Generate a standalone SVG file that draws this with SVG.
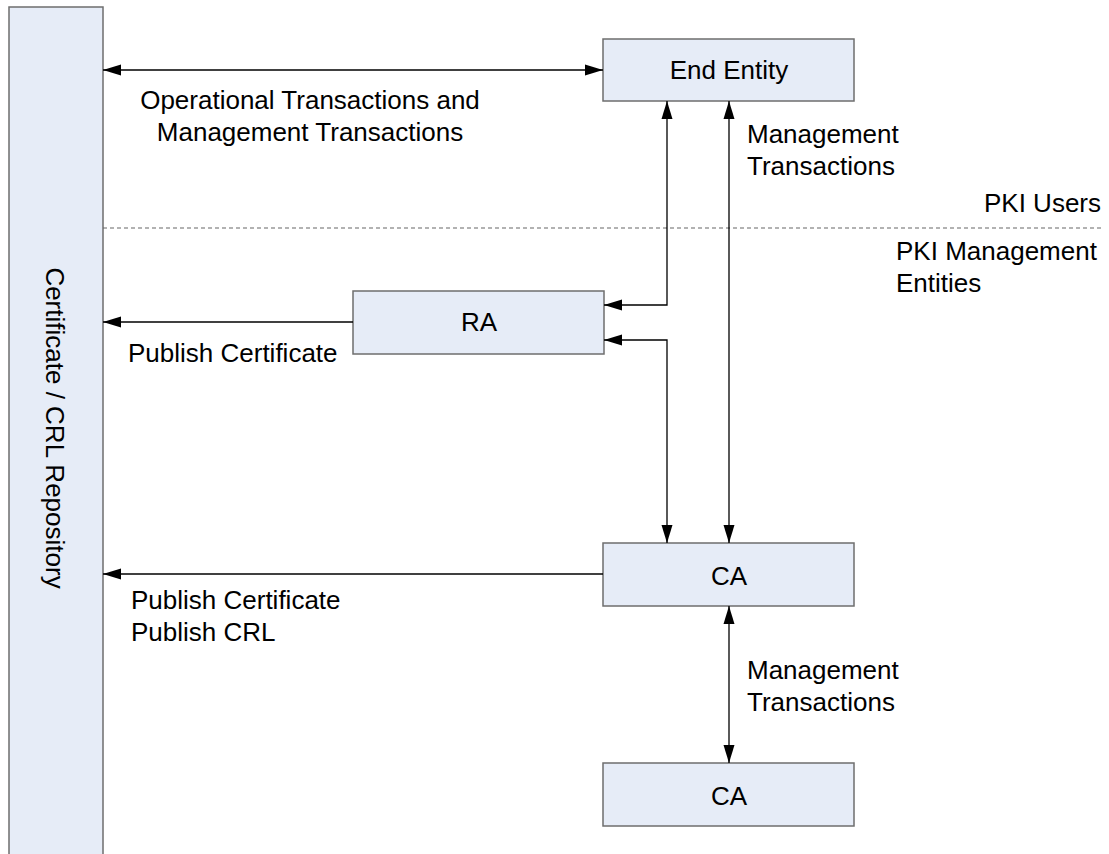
<svg xmlns="http://www.w3.org/2000/svg" width="1109" height="854" viewBox="0 0 1109 854">
<style>
.box{fill:#E6ECF7;stroke:#6E6E6E;stroke-width:1.5}
.t{font-family:"Liberation Sans",Arial,sans-serif;font-size:26px;fill:#000}
.c{text-anchor:middle}
.ln{fill:none;stroke:#000;stroke-width:1.3}
</style>
<defs>
<marker id="ah" markerUnits="userSpaceOnUse" markerWidth="20" markerHeight="14" refX="18" refY="6" orient="auto-start-reverse">
<path d="M0,0.5 L18,6 L0,11.5 z" fill="#000"/>
</marker>
</defs>
<rect width="1109" height="854" fill="#fff"/>
<g id="repository">
<rect class="box" x="9" y="7" width="94" height="860"/>
<text class="t c" transform="translate(46,428) rotate(90)">Certificate / CRL Repository</text>
</g>
<g id="end-entity">
<rect class="box" x="603" y="39" width="251" height="62"/>
<text class="t c" x="729" y="79">End Entity</text>
</g>
<g id="ra">
<rect class="box" x="353" y="291" width="251" height="63"/>
<text class="t c" x="479" y="331">RA</text>
</g>
<g id="ca1">
<rect class="box" x="603" y="543" width="251" height="63"/>
<text class="t c" x="729" y="585">CA</text>
</g>
<g id="ca2">
<rect class="box" x="603" y="763" width="251" height="63"/>
<text class="t c" x="729" y="805">CA</text>
</g>
<g id="boundary">
<line x1="103" y1="228" x2="1103" y2="228" stroke="#666" stroke-width="1.2" stroke-dasharray="4,3"/>
<text class="t" x="1101" y="212" text-anchor="end">PKI Users</text>
<text class="t" x="896" y="260">PKI Management</text>
<text class="t" x="896" y="292">Entities</text>
</g>
<g id="connectors">
<line class="ln" x1="603" y1="70" x2="103" y2="70" marker-start="url(#ah)" marker-end="url(#ah)"/>
<path class="ln" d="M667,101 V305 H604" marker-start="url(#ah)" marker-end="url(#ah)"/>
<line class="ln" x1="729" y1="101" x2="729" y2="543" marker-start="url(#ah)" marker-end="url(#ah)"/>
<path class="ln" d="M604,340 H667 V543" marker-start="url(#ah)" marker-end="url(#ah)"/>
<line class="ln" x1="353" y1="322" x2="103" y2="322" marker-end="url(#ah)"/>
<line class="ln" x1="603" y1="574" x2="103" y2="574" marker-end="url(#ah)"/>
<line class="ln" x1="729" y1="606" x2="729" y2="763" marker-start="url(#ah)" marker-end="url(#ah)"/>
</g>
<g id="labels">
<text class="t c" x="310" y="109">Operational Transactions and</text>
<text class="t c" x="310" y="141">Management Transactions</text>
<text class="t" x="747" y="143">Management</text>
<text class="t" x="747" y="175">Transactions</text>
<text class="t" x="128" y="362">Publish Certificate</text>
<text class="t" x="131" y="609">Publish Certificate</text>
<text class="t" x="131" y="641">Publish CRL</text>
<text class="t" x="747" y="679">Management</text>
<text class="t" x="747" y="711">Transactions</text>
</g>
</svg>
